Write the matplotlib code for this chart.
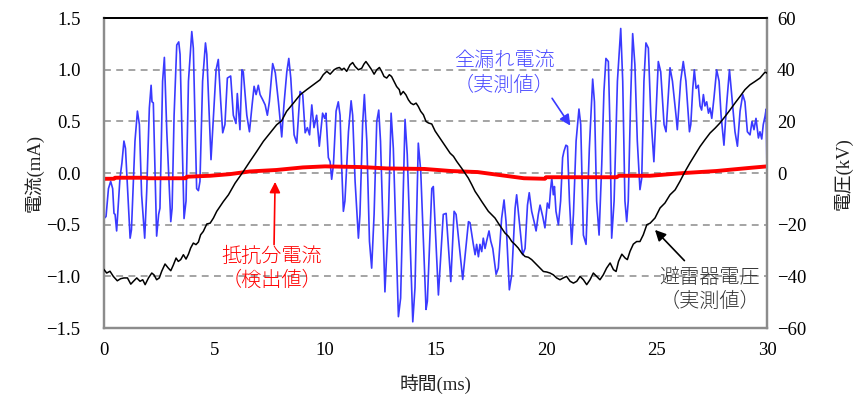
#!/usr/bin/python
"""Leakage current of an arrester: total current, resistive component and voltage."""

import matplotlib
matplotlib.use("Agg")
import matplotlib.pyplot as plt

# fonts: serif for numbers, CJK fallback for the japanese labels
JP_FONT = ['Liberation Serif', 'Noto Sans CJK JP', 'DejaVu Sans']

# total leakage current (mA)
total_t = [0.00, 0.09, 0.20, 0.30, 0.39, 0.45, 0.50, 0.57, 0.72, 0.81, 0.90, 0.97,
           1.18, 1.24, 1.40, 1.51, 1.60, 1.70, 1.84, 1.93, 2.05, 2.13, 2.17, 2.23,
           2.38, 2.47, 2.53, 2.65, 2.73, 2.84, 3.02, 3.08, 3.17, 3.29, 3.38, 3.44,
           3.62, 3.71, 3.82, 3.97, 4.04, 4.19, 4.27, 4.34, 4.46, 4.59, 4.65, 4.84,
           5.07, 5.17, 5.28, 5.37, 5.47, 5.58, 5.73, 5.85, 5.97, 6.03, 6.15, 6.24,
           6.30, 6.46, 6.58, 6.70, 6.79, 6.88, 6.98, 7.06, 7.18, 7.29, 7.39, 7.48,
           7.63, 7.75, 7.89, 8.04, 8.14, 8.27, 8.36, 8.45, 8.54, 8.60, 8.72, 8.79,
           8.87, 8.99, 9.10, 9.20, 9.30, 9.40, 9.50, 9.62, 9.74,
           9.89, 9.98, 10.04, 10.15, 10.23, 10.30, 10.38, 10.50, 10.60, 10.68, 10.75,
           10.83, 10.90, 11.06, 11.18, 11.25, 11.36, 11.51, 11.58, 11.70, 11.78, 11.89,
           12.01, 12.11, 12.22, 12.34, 12.43, 12.51, 12.71, 12.87, 12.99, 13.09, 13.32,
           13.42, 13.62, 13.72, 13.97, 14.07, 14.22, 14.33, 14.57, 14.63, 14.83,
           14.90, 15.13, 15.35, 15.48, 15.69, 15.84, 15.93, 16.23, 16.49, 16.56, 16.71,
           16.79, 16.86, 16.94, 17.01, 17.09, 17.16, 17.24, 17.31, 17.42, 17.50, 17.59,
           17.74, 17.84, 17.99, 18.10, 18.19, 18.34, 18.45, 18.60, 18.67, 18.79, 18.94,
           19.05, 19.16, 19.24, 19.35, 19.46, 19.55, 19.65, 19.73, 19.85,
           19.95, 20.06, 20.14, 20.21, 20.26, 20.33, 20.38, 20.45, 20.56, 20.66, 20.75,
           20.81, 20.90, 20.97, 21.06, 21.16, 21.24, 21.36, 21.49, 21.57, 21.69, 21.81,
           21.96, 22.11, 22.19, 22.29, 22.40, 22.52, 22.62, 22.71, 22.82, 22.89, 22.97,
           23.08, 23.23, 23.38, 23.47, 23.57, 23.65, 23.72, 23.83, 23.92, 24.02, 24.13,
           24.25, 24.33, 24.43, 24.52, 24.63, 24.74, 24.88,
           25.08, 25.19, 25.34, 25.43, 25.61, 25.72, 25.88, 25.94, 26.09, 26.21, 26.33,
           26.49, 26.55, 26.64, 26.71, 26.79, 26.89, 26.97, 27.04, 27.12, 27.19, 27.27,
           27.35, 27.42, 27.50, 27.60, 27.72, 27.83, 27.92, 28.05, 28.17, 28.30, 28.40,
           28.55, 28.66, 28.78, 28.90, 29.00, 29.11, 29.23, 29.32, 29.41, 29.50, 29.61,
           29.68, 29.76, 29.83, 29.91, 29.96, 30.00]
total_ma = [-0.44, -0.42, -0.15, -0.08, -0.15, -0.39, -0.40, -0.56, -0.05, 0.10, 0.31, 0.24,
            -0.63, -0.55, 0.31, 0.60, 0.47, -0.21, -0.63, -0.18, 0.63, 0.85, 0.69, 0.68,
            -0.61, -0.40, -0.34, 0.89, 1.12, 0.40, -0.47, -0.34, 0.56, 1.24, 1.27, 1.15,
            -0.44, -0.27, 0.89, 1.37, 1.21, -0.15, -0.17, -0.08, 0.89, 1.26, 1.15, 0.13,
            1.00, 1.10, 0.69, 0.39, 0.47, 0.92, 0.94, 0.56, 0.48, 0.77, 0.42, 1.00,
            0.98, 0.56, 0.40, 0.66, 0.84, 0.76, 0.85, 0.76, 0.71, 0.66, 0.56, 0.69,
            1.06, 0.97, 0.69, 0.35, 0.66, 0.98, 1.11, 0.92, 0.60, 0.37, 0.29, 0.53,
            0.79, 0.76, 0.39, 0.44, 0.37, 0.66, 0.44, 0.56, 0.26,
            0.58, 0.53, 0.58, 0.15, 0.11, -0.06, 0.08, 0.60, 0.69, 0.56, 0.08,
            -0.37, -0.27, 0.40, 0.70, 0.56, -0.08, -0.63, -0.40, 0.47, 0.76, 0.31,
            -0.66, -0.92, -0.40, 0.50, 0.61, 0.31, -1.15, -0.40, 0.58, 0.24, -1.39,
            -1.21, 0.52, 0.18, -1.44, -1.11, 0.29, 0.02, -1.32, -1.24, -0.15,
            -0.13, -1.18, -0.40, -0.39, -1.05, -0.37, -0.40, -1.03, -0.47, -0.48, -0.69,
            -0.79, -0.69, -0.81, -0.69, -0.76, -0.63, -0.73, -0.66, -0.56, -0.66, -0.73,
            -0.98, -0.92, -0.44, -0.26, -0.47, -1.13, -0.98, -0.34, -0.21, -0.47, -0.79,
            -0.73, -0.31, -0.19, -0.37, -0.47, -0.56, -0.40, -0.31, -0.42,
            -0.53, -0.29, -0.34, -0.15, -0.05, -0.21, -0.13, -0.37, -0.50, -0.27, 0.15,
            0.21, 0.27, 0.26, -0.27, -0.69, -0.40, 0.31, 0.62, 0.47, -0.60, -0.69,
            0.24, 0.91, 0.69, -0.27, -0.60, 0.08, 0.79, 1.11, 1.08, 0.47, -0.63,
            -0.27, 0.89, 1.40, 0.89, -0.27, -0.47, -0.27, 0.73, 1.35, 1.05, 0.31,
            -0.16, -0.05, 0.89, 1.26, 1.21, 0.56, 0.11,
            1.08, 0.98, 0.47, 0.40, 1.02, 0.89, 0.56, 0.42, 0.89, 1.08, 0.89,
            0.40, 0.47, 0.82, 1.00, 0.82, 0.85, 0.65, 0.61, 0.76, 0.65, 0.69,
            0.58, 0.63, 0.53, 0.73, 1.00, 0.89, 0.56, 0.27, 0.66, 1.00, 0.76,
            0.40, 0.26, 0.60, 0.76, 0.69, 0.40, 0.37, 0.50, 0.42, 0.53, 0.34,
            0.40, 0.33, 0.47, 0.55, 0.62, -0.03]

# resistive component (mA), step like detector output
resist_t = [0.0, 0.45, 0.5, 1.9, 1.95, 3.7, 3.75, 4.8, 5.7, 6.6, 7.8, 9.0, 10.0, 11.7,
            12.8, 14.5, 15.7, 16.9, 17.8, 19.0, 19.95, 20.0, 23.2, 23.3, 24.7, 26.2,
            27.7, 29.2, 30.0]
resist_ma = [-0.055, -0.055, -0.045, -0.045, -0.05, -0.05, -0.035, -0.026, -0.01, 0.016,
             0.03, 0.055, 0.065, 0.058, 0.045, 0.04, 0.02, 0.01, -0.016, -0.05, -0.055,
             -0.04, -0.04, -0.026, -0.026, 0.0, 0.02, 0.05, 0.065]

# arrester voltage (kV)
volt_t = [0.00, 0.12, 0.27, 0.42, 0.60, 0.75, 0.90, 1.06, 1.21, 1.33, 1.48, 1.63, 1.75,
          1.86, 2.01, 2.16, 2.26, 2.38, 2.50, 2.61, 2.76, 2.91, 3.02, 3.14, 3.26, 3.36,
          3.47, 3.59, 3.71, 3.82, 3.92, 4.04, 4.16, 4.27, 4.37, 4.49, 4.65, 4.80, 4.95,
          5.10, 5.40, 5.63, 5.93, 6.30, 6.60, 6.91, 7.21, 7.51, 7.81, 8.04, 8.26, 8.57,
          8.87, 9.17, 9.47, 9.77,
          9.92, 10.08, 10.23, 10.41, 10.53, 10.65, 10.76, 10.86, 10.98, 11.13, 11.25,
          11.36, 11.51, 11.66, 11.76, 11.85, 11.96, 12.11, 12.22, 12.34, 12.46, 12.56,
          12.67, 12.79, 12.91, 13.01, 13.12, 13.24, 13.36, 13.42, 13.54, 13.66, 13.77,
          13.88, 14.00, 14.12, 14.22, 14.33, 14.45, 14.57, 14.68, 14.83, 14.98,
          15.20, 15.35, 15.50, 15.66, 15.81, 15.96, 16.18, 16.33, 16.48, 16.64, 16.79,
          16.94, 17.09, 17.24, 17.39, 17.54, 17.69, 17.84, 17.99, 18.14, 18.30, 18.45,
          18.60, 18.74, 18.90, 19.05, 19.20, 19.35, 19.50, 19.65, 19.88,
          20.03, 20.18, 20.33, 20.48, 20.63, 20.78, 20.93, 21.09, 21.24, 21.39, 21.54,
          21.69, 21.84, 21.99, 22.14, 22.29, 22.44, 22.59, 22.74, 22.90, 23.05, 23.17,
          23.28, 23.43, 23.58, 23.68, 23.80, 23.95, 24.10, 24.25, 24.40, 24.56, 24.71,
          24.93, 25.16, 25.38, 25.61, 25.84, 26.06, 26.29, 26.51, 26.74, 26.97, 27.19,
          27.42, 27.65, 27.87, 28.10, 28.33, 28.55, 28.78, 29.00, 29.23, 29.46, 29.68,
          29.91, 30.00]
volt_kv = [-37.4, -38.7, -38.0, -40.0, -41.7, -40.9, -40.6, -40.6, -43.0, -41.9, -40.6,
           -41.9, -41.3, -43.2, -40.6, -38.7, -39.4, -41.3, -40.6, -38.0, -35.2, -36.8,
           -37.8, -35.5, -32.9, -34.2, -33.5, -31.6, -33.3, -31.4, -29.0, -27.1, -27.7,
           -26.7, -23.9, -22.6, -19.7, -19.4, -17.4,
           -14.8, -11.0, -8.4, -3.9, 0.6, 4.5, 8.4, 12.3, 15.5, 18.7, 20.3, 23.9, 27.1,
           30.3, 32.3, 34.2, 36.1,
           38.1, 39.4, 38.3, 40.0, 40.6, 40.9, 40.0, 40.6, 39.4, 41.9, 42.8,
           41.3, 40.0, 40.6, 42.2, 43.2, 41.9, 40.0, 38.3, 40.0, 40.9, 39.4,
           37.4, 36.8, 38.1, 37.4, 35.5, 33.5, 32.3, 30.3, 31.6, 30.3, 28.4,
           27.1, 26.5, 27.1, 25.8, 23.9, 22.6, 20.0, 19.4, 19.0, 16.3,
           13.5, 11.6, 9.7, 7.7, 6.5, 4.5, 1.9, 0.0, -1.9, -4.5, -7.1,
           -9.0, -11.0, -12.9, -14.8, -16.1, -17.4, -19.4, -21.3, -23.2, -24.5, -26.5,
           -27.7, -29.0, -31.0, -32.3, -32.6, -33.5, -34.8, -36.1, -38.1,
           -38.3, -38.7, -39.4, -40.6, -41.3, -40.6, -40.0, -41.9, -42.6, -41.9, -40.0,
           -41.3, -43.2, -41.3, -38.7, -40.0, -41.3, -39.4, -36.8, -34.8, -37.4, -38.1,
           -34.2, -31.4, -32.9, -33.5, -30.3, -27.5, -26.5, -26.5, -23.9, -20.0, -19.4,
           -17.4, -13.5, -11.6, -8.4, -6.5, -3.2, 0.6, 3.9, 7.1, 10.3, 12.9,
           15.5, 17.4, 19.4, 21.9, 24.5, 27.1, 29.7, 32.3, 34.2, 35.5, 36.8,
           39.1, 38.7]

x_ticks = [0, 5, 10, 15, 20, 25, 30]
ma_ticks = [-1.5, -1.0, -0.5, 0.0, 0.5, 1.0, 1.5]
kv_ticks = [-60, -40, -20, 0, 20, 40, 60]

BLUE = '#3a3aff'
RED = '#ff0000'
GRAY = '#8c8c8c'


# draws the three series on two y axes
# -----------------------------------------------------------------------------
def draw_chart():
    fig = plt.figure(figsize=(8.67, 4.03), dpi=100)
    ax = fig.add_axes([0.12, 0.186, 0.7647, 0.769])
    ax2 = ax.twinx()

    # gridlines on the current axis
    for v in ma_ticks[1:-1]:
        ax.axhline(v, color=GRAY, lw=1.1, ls=(0, (4.5, 3.5)), zorder=0)

    ax.plot(total_t, total_ma, color=BLUE, lw=1.2, zorder=2)
    ax.plot(resist_t, resist_ma, color=RED, lw=2.8, zorder=3)
    ax2.plot(volt_t, volt_kv, color='black', lw=1.1, zorder=4)

    ax.set_xlim(0, 30)
    ax.set_ylim(-1.5, 1.5)
    ax2.set_ylim(-60, 60)
    ax.set_xticks(x_ticks)
    ax.set_yticks(ma_ticks)
    ax.set_yticklabels([('%.1f' % v).replace('-', '\u2212') for v in ma_ticks])
    ax2.set_yticks(kv_ticks)

    for a in (ax, ax2):
        a.tick_params(length=0, labelsize=13.5, pad=10)
        for lab in a.get_xticklabels() + a.get_yticklabels():
            lab.set_fontfamily('Liberation Serif')
        for side in ('left', 'right', 'bottom'):
            a.spines[side].set_color(GRAY)
            a.spines[side].set_linewidth(1.6)
        a.spines['top'].set_color('black')
        a.spines['top'].set_linewidth(1.3)
    ax.tick_params(axis='y', pad=17)
    ax2.tick_params(axis='y', pad=7)

    ax.set_xlabel('時間(ms)', family=JP_FONT, fontsize=13.5, labelpad=11, color='#222222')
    ax.set_ylabel('電流(mA)', family=JP_FONT, fontsize=13.5, labelpad=2, color='#222222')
    ax2.set_ylabel('電圧(kV)', family=JP_FONT, fontsize=13.5, rotation=90, labelpad=20,
                   color='#222222')

    # annotations with arrows
    ax.annotate('全漏れ電流\n（実測値）', xy=(21.1, 0.46), xytext=(18.1, 0.96),
                ha='center', va='center', color='#4a4aff', family=JP_FONT, fontsize=14.5,
                linespacing=1.35, fontweight='light',
                arrowprops=dict(arrowstyle='-|>', color=BLUE, lw=1.2, mutation_scale=16,
                                shrinkA=0, shrinkB=0, relpos=(0.93, 0.1)))
    ax.annotate('抵抗分電流\n（検出値）', xy=(7.74, -0.085), xytext=(7.6, -0.93),
                ha='center', va='center', color=RED, family=JP_FONT, fontsize=14.5,
                linespacing=1.35, fontweight='light',
                arrowprops=dict(arrowstyle='-|>', color=RED, lw=1.2, mutation_scale=16,
                                shrinkA=0, shrinkB=0, relpos=(0.52, 1.0)))
    ax.annotate('避雷器電圧\n（実測値）', xy=(24.93, -0.55), xytext=(27.4, -1.14),
                ha='center', va='center', color='#333333', family=JP_FONT, fontsize=14.5,
                linespacing=1.35, fontweight='light',
                arrowprops=dict(arrowstyle='-|>', color='black', lw=1.2, mutation_scale=16,
                                shrinkA=0, shrinkB=0, relpos=(0.25, 1.2)))

    fig.savefig('out.png', dpi=100)


# main function
# -----------------------------------------------------------------------------
def main():
    draw_chart()

if __name__ == '__main__':
    main()
